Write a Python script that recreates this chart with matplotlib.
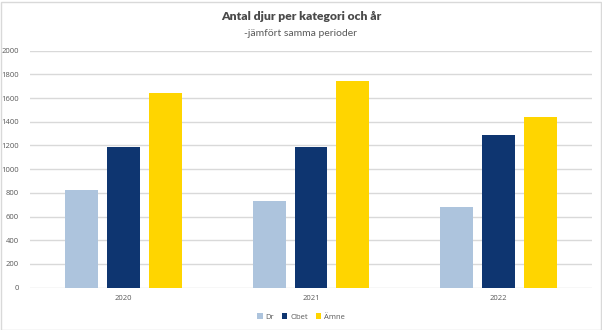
import matplotlib.pyplot as plt
import matplotlib.patches as patches
import numpy as np

years = ["2020", "2021", "2022"]
series = ["Dr", "Obet", "Ämne"]
dr = [825, 730, 682]
obet = [1186, 1186, 1285]
amne = [1642, 1741, 1439]
colors = ["#adc4dd", "#0e3570", "#ffd500"]
yticks = [0, 200, 400, 600, 800, 1000, 1200, 1400, 1600, 1800, 2000]

plt.rcParams["font.family"] = ["Open Sans", "DejaVu Sans"]

fig = plt.figure(figsize=(6.02, 3.30), dpi=100)
ax = fig.add_axes([30 / 602, 1 - 287.7 / 330, 562 / 602, (287.7 - 50.7) / 330])

x = np.arange(len(years))
width = 0.176
step = 0.223
for i, (name, vals, col) in enumerate(zip(series, [dr, obet, amne], colors)):
    ax.bar(x + (i - 1) * step, vals, width, color=col, label=name, zorder=3)

ax.set_xlim(-0.5, 2.5)
ax.set_ylim(0, 2000)
ax.set_yticks(yticks)
ax.set_xticks(x, years)
ax.yaxis.grid(True, color="#d9d9d9", linewidth=1.0, zorder=0)
for s in ax.spines.values():
    s.set_visible(False)
ax.tick_params(axis="both", length=0, labelsize=5.5, colors="#595959")
ax.tick_params(axis="y", pad=8)
ax.tick_params(axis="x", pad=5)

# title lines in a narrower face
fig.text(0.5, 1 - 16 / 330, "Antal djur per kategori och år", ha="center", va="center",
         fontsize=8.7, fontweight="heavy", color="#4a4a4a", family="Lato")
fig.text(0.5, 1 - 34 / 330, "-jämfört samma perioder", ha="center", va="center",
         fontsize=7.5, color="#595959", family="Lato")

leg = fig.legend(loc="center", bbox_to_anchor=(0.5, 1 - 317 / 330), ncol=3, frameon=False,
                 fontsize=5.5, handlelength=0.7, handleheight=0.7, handletextpad=0.4,
                 columnspacing=1.0)
for t in leg.get_texts():
    t.set_color("#595959")

# light border round the chart area
fig.patches.append(patches.Rectangle((0.5 / 602, 0.5 / 330), 600 / 602, 328 / 330,
                                     transform=fig.transFigure, fill=False,
                                     edgecolor="#d9d9d9", linewidth=1.0))

fig.savefig("out.png", dpi=100)
